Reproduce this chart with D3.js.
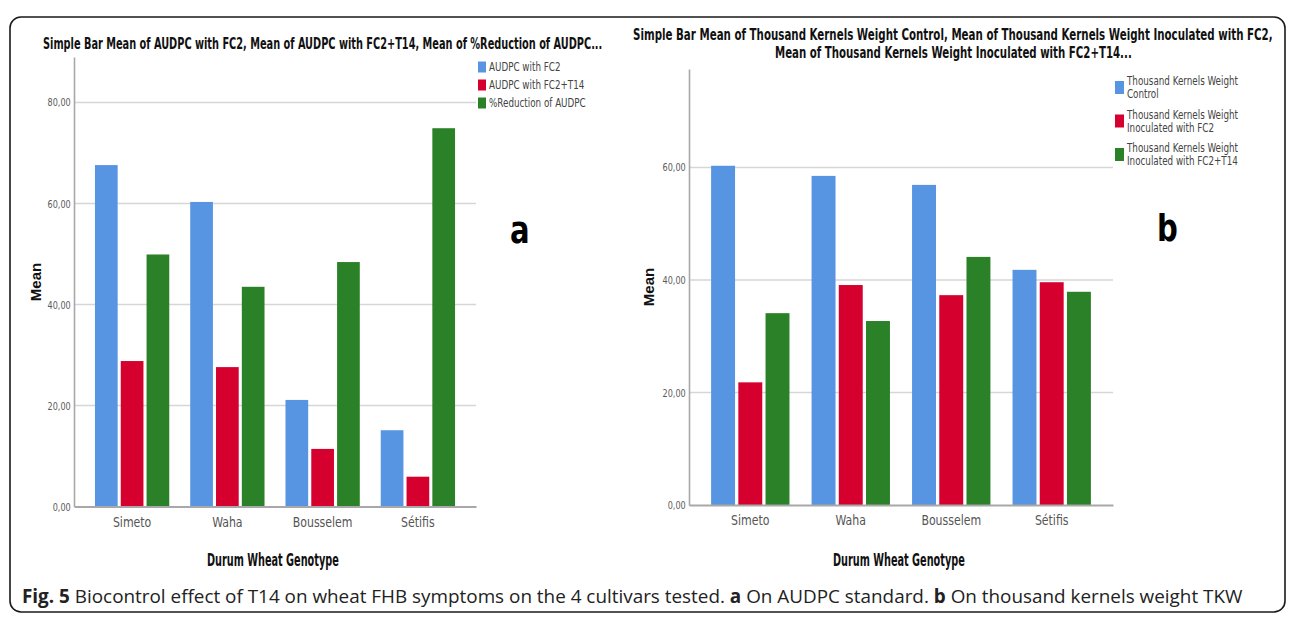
<!DOCTYPE html>
<html><head><meta charset="utf-8">
<script src="https://cdn.jsdelivr.net/npm/d3@7"></script>
<style>
html,body{margin:0;padding:0;background:#fff;}
svg{display:block;}
</style></head>
<body>
<svg id="chart" width="1292" height="618"></svg>
<script>
// ---------- DATA ----------
const categories = ["Simeto", "Waha", "Bousselem", "Sétifis"];

const seriesA = ["AUDPC with FC2", "AUDPC with FC2+T14", "%Reduction of AUDPC"];
const audpcFC2 = [67.6, 60.3, 21.1, 15.1];
const audpcFC2T14 = [28.8, 27.6, 11.4, 5.9];
const reductionAUDPC = [49.9, 43.5, 48.4, 74.9];
const ticksA = [0, 20, 40, 60, 80];

const seriesB = [
  ["Thousand Kernels Weight", "Control"],
  ["Thousand Kernels Weight", "Inoculated with FC2"],
  ["Thousand Kernels Weight", "Inoculated with FC2+T14"]
];
const tkwControl = [60.3, 58.5, 56.9, 41.8];
const tkwFC2 = [21.8, 39.1, 37.3, 39.6];
const tkwFC2T14 = [34.1, 32.7, 44.1, 37.9];
const ticksB = [0, 20, 40, 60];

const titleA = ["Simple Bar Mean of AUDPC with FC2, Mean of AUDPC with FC2+T14, Mean of %Reduction of AUDPC..."];
const titleB = ["Simple Bar Mean of Thousand Kernels Weight Control, Mean of Thousand Kernels Weight Inoculated with FC2,",
                "Mean of Thousand Kernels Weight Inoculated with FC2+T14..."];
const xTitle = "Durum Wheat Genotype";
const yTitle = "Mean";
const captionBold = "Fig. 5";
const captionParts = [
  [" Biocontrol effect of T14 on wheat FHB symptoms on the 4 cultivars tested. ", false],
  ["a", true], [" On AUDPC standard. ", false],
  ["b", true], [" On thousand kernels weight TKW", false]
];

// ---------- STYLE ----------
const colors = ["#5795e3", "#d6002f", "#2b8128"];
const narrow = "'Liberation Sans Narrow','Arial Narrow','DejaVu Sans Condensed',sans-serif";
const svg = d3.select("#chart");
const fmt = v => d3.format(".2f")(v).replace(".", ",");

// place a text at (x,y) and squeeze it horizontally to the given width (or by a factor)
function placeText(parent, x, y, str, attrs, width, factor) {
  const t = parent.append("text").text(str);
  Object.entries(attrs).forEach(([k, v]) => t.attr(k, v));
  const w = t.node().getComputedTextLength();
  const s = width ? (w > 0 ? width / w : 1) : (factor || 1);
  t.attr("transform", `translate(${x},${y}) scale(${s},1)`);
  return t;
}

// frame
svg.append("rect").attr("x", 10).attr("y", 17).attr("width", 1275).attr("height", 595)
  .attr("rx", 11).attr("fill", "none").attr("stroke", "#1a1a1a").attr("stroke-width", 1.6);

function panel(cfg) {
  const g = svg.append("g");
  const y = d3.scaleLinear().domain([0, cfg.yMax]).range([cfg.y0, cfg.yTop]);
  const x0 = d3.scaleBand().domain(categories).range([cfg.xL, cfg.xR]).paddingInner(0.22).paddingOuter(0.22);
  const x1 = d3.scaleBand().domain(d3.range(cfg.values.length)).range([0, x0.bandwidth()]).paddingInner(0.12);

  // gridlines
  g.append("g").selectAll("line").data(cfg.ticks.filter(t => t > 0)).join("line")
    .attr("x1", cfg.xL).attr("x2", cfg.xR)
    .attr("y1", d => y(d)).attr("y2", d => y(d))
    .attr("stroke", "#d6d6d6").attr("stroke-width", 1.6);

  // y axis
  const ya = g.append("g").attr("transform", `translate(${cfg.xL},0)`)
    .call(d3.axisLeft(y).tickValues(cfg.ticks).tickFormat(fmt).tickSize(0).tickPadding(4));
  ya.select(".domain").attr("stroke", "#a8a8a8").attr("stroke-width", 1.6);
  ya.selectAll("text").attr("font-family", narrow).attr("font-size", 11).attr("fill", "#5a5a5a")
    .attr("transform", "scale(0.82,1)");

  // bars
  const groups = g.append("g").selectAll("g").data(categories).join("g")
    .attr("transform", c => `translate(${x0(c)},0)`);
  groups.selectAll("rect").data((c, i) => cfg.values.map((s, k) => ({k, v: s[i]}))).join("rect")
    .attr("x", d => x1(d.k)).attr("width", x1.bandwidth())
    .attr("y", d => y(d.v)).attr("height", d => y(0) - y(d.v))
    .attr("fill", d => colors[d.k]);

  // x axis
  const xa = g.append("g").attr("transform", `translate(0,${cfg.y0})`)
    .call(d3.axisBottom(x0).tickSize(0).tickPadding(10));
  xa.select(".domain").attr("stroke", "#a8a8a8").attr("stroke-width", 2);
  xa.selectAll("text").attr("font-family", narrow).attr("font-size", 14.5).attr("fill", "#555")
    .attr("transform", "scale(0.84,1)");

  // axis titles
  placeText(g, (cfg.xL + cfg.xR) / 2 - 2 - 66, 566, xTitle,
    {"font-family": narrow, "font-weight": "bold", "font-size": 17.5, "fill": "#111"}, 132);
  g.append("text").attr("transform", `translate(${cfg.yTitleX},${cfg.yTitleY}) rotate(-90)`)
    .attr("text-anchor", "middle").attr("font-family", "'Liberation Sans',Arial,sans-serif")
    .attr("font-weight", "bold").attr("font-size", 15).attr("fill", "#111").text(yTitle);

  // title
  cfg.title.forEach((t, i) => {
    placeText(g, cfg.titleX[i], cfg.titleY[i], t,
      {"font-family": narrow, "font-weight": "bold", "font-size": 15.5, "fill": "#111"}, cfg.titleW[i]);
  });

  // big panel letter
  placeText(g, cfg.letterX, cfg.letterY, cfg.letter,
    {"font-family": narrow, "font-weight": "bold", "font-size": 38, "fill": "#000"}, null, 0.85);

  // legend
  const lg = g.append("g");
  cfg.legend.forEach((lab, k) => {
    const ry = cfg.legY + k * cfg.legStep;
    const lines = Array.isArray(lab) ? lab : [lab];
    lg.append("rect").attr("x", cfg.legX).attr("y", ry - cfg.swH / 2 + (lines.length - 1) * 6.5)
      .attr("width", cfg.swW).attr("height", cfg.swH).attr("fill", colors[k]);
    lines.forEach((ln, j) => {
      placeText(lg, cfg.legX + cfg.swW + 3, ry + j * 13 + 4.3, ln,
        {"font-family": narrow, "font-size": cfg.legFont, "fill": "#444"}, null, cfg.legSqueeze);
    });
  });
}

panel({
  values: [audpcFC2, audpcFC2T14, reductionAUDPC], ticks: ticksA, yMax: 89,
  xL: 74, xR: 476, y0: 506.5, yTop: 57,
  title: titleA, titleX: [43], titleY: [49], titleW: [560],
  yTitleX: 41, yTitleY: 282, letter: "a", letterX: 510, letterY: 243,
  legend: seriesA, legX: 478, legY: 67, legStep: 18, swW: 8, swH: 11, legSqueeze: 0.75, legFont: 13
});

panel({
  values: [tkwControl, tkwFC2, tkwFC2T14], ticks: ticksB, yMax: 77.5,
  xL: 689, xR: 1113, y0: 505, yTop: 69,
  title: titleB, titleX: [633, 775], titleY: [40, 57.5], titleW: [640, 357],
  yTitleX: 654, yTitleY: 287, letter: "b", letterX: 1157, letterY: 241,
  legend: seriesB, legX: 1115, legY: 81, legStep: 33.5, swW: 9, swH: 13, legSqueeze: 0.8, legFont: 12.2
});

// caption
const cap = svg.append("text").attr("x", 22).attr("y", 603)
  .attr("font-family", "'Open Sans','Noto Sans',sans-serif").attr("font-size", 17).attr("fill", "#222");
cap.append("tspan").attr("font-weight", "bold").text(captionBold);
captionParts.forEach(([t, b]) => cap.append("tspan").attr("font-weight", b ? "bold" : "normal").text(t));
const cw = cap.node().getComputedTextLength();
if (cw > 0) cap.attr("font-size", 17 * 1221 / cw);
</script>
</body></html>
